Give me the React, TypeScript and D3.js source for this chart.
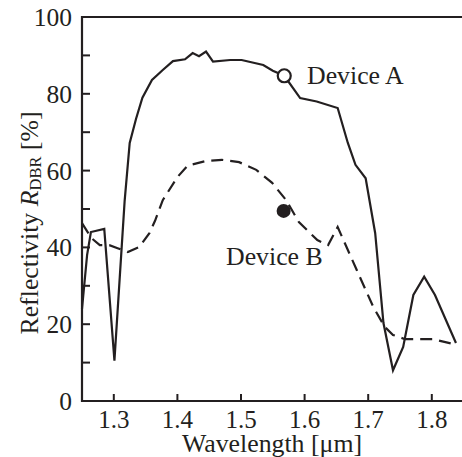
import React from "react";
import * as d3 from "d3";

const xTicks = [1.3, 1.4, 1.5, 1.6, 1.7, 1.8];
const yMajorTicks = [0, 20, 40, 60, 80, 100];
const yMinorTicks = [10, 30, 50, 70, 90];

const deviceAX = [1.25, 1.258, 1.264, 1.285, 1.301, 1.317, 1.325, 1.335, 1.345, 1.36, 1.377, 1.393, 1.412, 1.424, 1.434, 1.445, 1.456, 1.483, 1.501, 1.535, 1.55, 1.568, 1.593, 1.619, 1.652, 1.668, 1.68, 1.696, 1.711, 1.724, 1.739, 1.755, 1.771, 1.788, 1.805, 1.838];
const deviceAY = [24, 38, 44, 44.8, 10.5, 52, 67.2, 73.5, 79, 83.6, 86.2, 88.5, 89, 90.6, 89.8, 91, 88.4, 88.8, 88.8, 87.5, 86, 84.7, 78.9, 78, 76.3, 67.2, 61.5, 58, 43.7, 20.3, 8, 14.1, 27.6, 32.4, 27.6, 15.1];

const deviceBX = [1.25, 1.265, 1.278, 1.293, 1.306, 1.322, 1.34, 1.356, 1.365, 1.377, 1.4, 1.416, 1.445, 1.47, 1.497, 1.524, 1.549, 1.571, 1.591, 1.62, 1.637, 1.652, 1.682, 1.708, 1.726, 1.739, 1.758, 1.802, 1.84];
const deviceBY = [46.3, 42.4, 40.6, 40.6, 39.8, 38.8, 40.1, 43.7, 47, 52.3, 58.3, 61.3, 62.5, 62.8, 62.2, 60.2, 56.8, 52.3, 46.6, 41.9, 40.6, 45.3, 34.1, 24.5, 19.3, 17.2, 16.1, 16.1, 14.6];

const markerA = { x: 1.568, y: 84.7, label: "Device A" };
const markerB = { x: 1.567, y: 49.5, label: "Device B" };

const W = 462;
const H = 457;
const INK = "#231f20";
const FONT = "'Liberation Serif', 'Times New Roman', serif";

export default function App() {
  const x = d3.scaleLinear().domain([1.25, 1.85]).range([82, 82 + 0.6 * 636]);
  const y = d3.scaleLinear().domain([0, 100]).range([401, 17]);

  const lineGen = d3
    .line<[number, number]>()
    .x((d) => x(d[0]))
    .y((d) => y(d[1]));

  const aPts: [number, number][] = deviceAX.map((v, i) => [v, deviceAY[i]]);
  const bPts: [number, number][] = deviceBX.map((v, i) => [v, deviceBY[i]]);

  const x0 = x(1.25);
  const xEnd = W;

  return (
    <svg
      width={W}
      height={H}
      style={{ position: "absolute", left: 0, top: 0, background: "#fff" }}
      fontFamily={FONT}
    >
      <rect x={0} y={0} width={W} height={H} fill="#fff" />
      {/* curves */}
      <path d={lineGen(bPts) || ""} fill="none" stroke={INK} strokeWidth={2.2} strokeDasharray="12 7" />
      <path d={lineGen(aPts) || ""} fill="none" stroke={INK} strokeWidth={2.2} strokeLinejoin="miter" />

      {/* frame */}
      <line x1={x0} x2={xEnd} y1={y(100)} y2={y(100)} stroke={INK} strokeWidth={2.2} />
      <line x1={x0} x2={xEnd} y1={y(0)} y2={y(0)} stroke={INK} strokeWidth={2.2} />
      <line x1={x0} x2={x0} y1={y(100) - 1.1} y2={y(0) + 1.1} stroke={INK} strokeWidth={2.2} />

      {/* y ticks */}
      {[...yMajorTicks, ...yMinorTicks].map((t) => (
        <line key={"yt" + t} x1={x0} x2={x0 + 8} y1={y(t)} y2={y(t)} stroke={INK} strokeWidth={2} />
      ))}
      {yMajorTicks.map((t) => (
        <text key={"yl" + t} x={72} y={y(t)} dy="0.35em" textAnchor="end" fontSize={25.5} fill={INK}>
          {t}
        </text>
      ))}

      {/* x ticks */}
      {xTicks.map((t) => (
        <g key={"xt" + t}>
          <line x1={x(t)} x2={x(t)} y1={y(0)} y2={y(0) - 7} stroke={INK} strokeWidth={2} />
          <text x={x(t)} y={428} textAnchor="middle" fontSize={25} fill={INK}>
            {d3.format(".1f")(t)}
          </text>
        </g>
      ))}

      {/* axis labels */}
      <text x={272} y={452} textAnchor="middle" fontSize={25.8} fill={INK}>
        Wavelength [μm]
      </text>
      <text
        transform={`translate(38,223) rotate(-90)`}
        textAnchor="middle"
        fontSize={25.8}
        fill={INK}
      >
        Reflectivity{" "}
        <tspan fontStyle="italic">R</tspan>
        <tspan fontSize={16.5} dy={3}>DBR</tspan>
        <tspan dy={-3}> [%]</tspan>
      </text>

      {/* markers */}
      <circle cx={x(markerA.x)} cy={y(markerA.y)} r={6.5} fill="#fff" stroke={INK} strokeWidth={2.2} />
      <circle cx={x(markerB.x)} cy={y(markerB.y)} r={7} fill={INK} />
      <text x={307} y={84} fontSize={25.8} fill={INK}>
        {markerA.label}
      </text>
      <text x={226} y={265} fontSize={25.8} fill={INK}>
        {markerB.label}
      </text>
    </svg>
  );
}
